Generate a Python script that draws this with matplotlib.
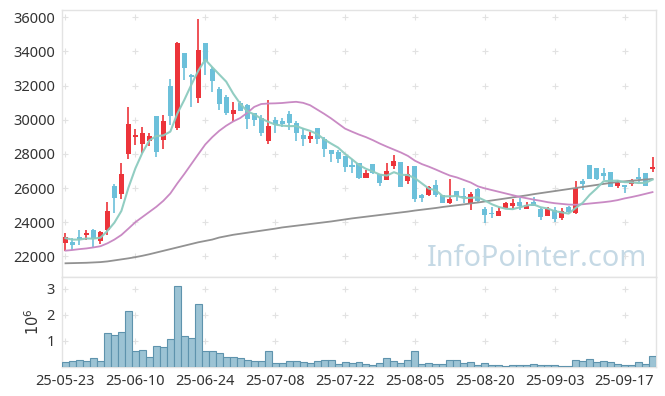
import numpy as np
import pandas as pd
import matplotlib
matplotlib.use("Agg")
import matplotlib.pyplot as plt

# ---------------- data ----------------
holidays = ["2025-06-03", "2025-06-06", "2025-08-15"]
dates = [d for d in pd.bdate_range("2025-05-23", "2025-09-23") if d.strftime("%Y-%m-%d") not in holidays]
date_labels = [d.strftime("%y-%m-%d") for d in dates]

open_ = [22760, 22820, 23130, 23250, 23540, 22910, 23540, 26120, 25630, 27990,
         28990, 28580, 28770, 30220, 28810, 31980, 29530, 33910, 32600, 31290,
         34500, 32990, 31800, 31310, 30350, 30960, 30860, 30390, 30080, 28750,
         29980, 29940, 30340, 29790, 29100, 28890, 29500, 28850, 28230, 28090,
         27880, 27360, 27450, 26600, 27410, 26820, 26490, 27300, 27540, 26400,
         27290, 25580, 25590, 26180, 25590, 25100, 25830, 25550, 25140, 25920,
         24770, 24500, 24360, 24850, 24950, 25160, 24790, 25160, 24770, 24380,
         24710, 24230, 24870, 24520, 26410, 27350, 27190, 26900, 26920, 26140,
         26180, 26220, 26630, 26900, 27110]
high = [23350, 23050, 23540, 23540, 23620, 23490, 25160, 26240, 27450, 30750,
        29470, 29560, 29220, 30220, 30280, 32370, 34570, 33910, 32650, 35880,
        34500, 33110, 31940, 31430, 31040, 31110, 30900, 30400, 30280, 31150,
        30160, 30120, 30510, 29940, 29530, 29300, 29500, 28970, 28230, 28230,
        27880, 27680, 27470, 27050, 27410, 26850, 27460, 27930, 27540, 27300,
        27290, 25640, 26120, 26470, 25600, 26510, 25830, 25980, 25780, 26000,
        24870, 24870, 24900, 25200, 25370, 25390, 25160, 25490, 24800, 24870,
        24870, 24810, 24950, 26410, 26530, 27350, 27190, 27150, 26920, 26470,
        26180, 26500, 27190, 26900, 27800]
low = [22330, 22370, 22680, 22950, 22560, 22720, 23230, 24550, 25340, 27720,
       28520, 28030, 28460, 27800, 28300, 29690, 29400, 32330, 30730, 30960,
       32620, 31620, 30570, 30280, 29930, 30500, 29440, 29630, 29050, 28560,
       29240, 29580, 29380, 28770, 28460, 28620, 28580, 27830, 27510, 27480,
       26950, 26860, 26550, 26570, 26800, 26120, 26460, 27100, 26050, 26230,
       25170, 25200, 25520, 25490, 25100, 25050, 25260, 25100, 24710, 25200,
       23930, 24260, 24360, 24800, 24790, 24700, 24760, 24940, 24120, 24360,
       24030, 24130, 24560, 24500, 25880, 26530, 26480, 26470, 26080, 26020,
       25720, 26130, 26370, 26100, 26920]
close = [23110, 22680, 23000, 23380, 23000, 23400, 24650, 25430, 26820, 29750,
         29100, 29220, 29050, 28110, 29920, 30220, 34500, 33050, 32520, 34070,
         33460, 32290, 30920, 30410, 30570, 30530, 30060, 29990, 29200, 29630,
         29710, 29750, 29830, 29240, 28870, 29050, 28850, 28270, 27980, 27700,
         27210, 27250, 26600, 26860, 26900, 26310, 26970, 27600, 26080, 26850,
         25380, 25430, 26080, 25590, 25100, 25360, 25550, 25460, 25650, 25260,
         24420, 24460, 24650, 25140, 25140, 24950, 25000, 24950, 24320, 24770,
         24180, 24650, 24580, 25980, 26240, 26530, 26530, 26720, 26080, 26310,
         26080, 26470, 26530, 26140, 27250]
prior_closes = [23100, 23000, 23050, 23050]

ma20 = [22330, 22370, 22420, 22460, 22520, 22590, 22760, 22980, 23250, 23620,
        24000, 24300, 24600, 24900, 25250, 25680, 26270, 26820, 27400, 27980,
        28550, 28980, 29350, 29650, 29900, 30100, 30400, 30750, 30920, 30950,
        30960, 30980, 31020, 31050, 30990, 30850, 30600, 30350, 30080, 29780,
        29480, 29300, 29130, 28980, 28800, 28600, 28420, 28250, 28080, 27880,
        27600, 27400, 27250, 27080, 26900, 26730, 26620, 26470, 26320, 26100,
        25980, 25880, 25780, 25680, 25580, 25480, 25400, 25320, 25250, 25170,
        25110, 25070, 25030, 25020, 25050, 25090, 25130, 25170, 25220, 25290,
        25390, 25470, 25560, 25660, 25760]
ma60 = [21590, 21600, 21610, 21620, 21640, 21660, 21700, 21760, 21820, 21880,
        21950, 22030, 22120, 22220, 22320, 22420, 22520, 22620, 22720, 22820,
        22900, 22980, 23100, 23180, 23260, 23320, 23380, 23440, 23500, 23560,
        23620, 23690, 23740, 23790, 23840, 23890, 23940, 23990, 24040, 24100,
        24160, 24220, 24270, 24320, 24370, 24420, 24470, 24520, 24570, 24620,
        24680, 24730, 24780, 24830, 24890, 24940, 24990, 25040, 25100, 25150,
        25210, 25270, 25330, 25390, 25450, 25510, 25570, 25640, 25700, 25760,
        25820, 25880, 25940, 26000, 26060, 26120, 26180, 26240, 26300, 26350,
        26390, 26430, 26460, 26500, 26530]

volume_m = [0.18, 0.23, 0.27, 0.23, 0.33, 0.23, 1.29, 1.22, 1.33, 2.14,
            0.60, 0.64, 0.37, 0.79, 0.76, 1.06, 3.10, 1.18, 1.10, 2.41,
            0.60, 0.60, 0.53, 0.37, 0.37, 0.33, 0.27, 0.23, 0.23, 0.60,
            0.14, 0.14, 0.22, 0.22, 0.18, 0.14, 0.23, 0.27, 0.27, 0.10,
            0.18, 0.14, 0.18, 0.10, 0.06, 0.14, 0.33, 0.23, 0.14, 0.27,
            0.62, 0.10, 0.14, 0.10, 0.10, 0.27, 0.27, 0.14, 0.18, 0.06,
            0.14, 0.06, 0.06, 0.03, 0.06, 0.06, 0.06, 0.10, 0.06, 0.06,
            0.06, 0.03, 0.03, 0.27, 0.23, 0.31, 0.18, 0.23, 0.18, 0.10,
            0.06, 0.06, 0.18, 0.10, 0.42]

price_ticks = [22000, 24000, 26000, 28000, 30000, 32000, 34000, 36000]
vol_ticks = [1, 2, 3]
watermark = "InfoPointer.com"

# ---------------- styling ----------------
plt.rcParams['font.family'] = ['Noto Sans', 'DejaVu Sans']
RED = '#ec343a'
BLUE = '#6cc0da'
TEAL = '#8ccbbf'
PINK = '#c98ac4'
GRAY = '#929292'
FRAME = '#e3e3e3'
TXT = '#333333'

n = len(close)
x = np.arange(n)
o = np.array(open_, float); c = np.array(close, float)
h = np.array(high, float); l = np.array(low, float)
ma5 = pd.Series(prior_closes + close, dtype=float).rolling(5).mean().to_numpy()[len(prior_closes):]

fig = plt.figure(figsize=(6.65, 3.96), dpi=100)
axp = fig.add_axes([62/665, (396-277)/396, (656-62)/665, (277-10)/396])
axv = fig.add_axes([62/665, (396-367)/396, (656-62)/665, (367-277)/396], sharex=axp)

up = c >= o
colors = np.where(up, RED, BLUE)
axp.vlines(x, l, h, colors=colors, linewidth=1.2, zorder=3)
body_bottom = np.minimum(o, c)
body_h = np.maximum(np.abs(c - o), 70)
axp.bar(x, body_h, bottom=body_bottom, width=0.72, color=colors, linewidth=0, zorder=4)

axp.plot(x, ma60, color=GRAY, lw=1.3, zorder=5)
axp.plot(x, ma20, color=PINK, lw=1.3, zorder=5)
axp.plot(x, ma5, color=TEAL, lw=1.5, alpha=0.95, zorder=5)

axp.text(0.985, 0.041, watermark, transform=axp.transAxes, ha='right', va='baseline',
         fontsize=20.8, color='#c5d9e5', zorder=1)

xt = list(range(0, n, 10))
axp.set_xlim(-0.5, n - 0.5)
axp.set_ylim(20787, 36428)
axp.set_yticks(price_ticks)
axp.set_yticklabels([str(t) for t in price_ticks])
gx, gy = np.meshgrid(xt, price_ticks)
axp.plot(gx.ravel(), gy.ravel(), ls='none', marker='+', ms=4.5, mew=0.8, color='#e2e2e2', zorder=0)

# volume
axv.bar(x, volume_m, width=1.0, color='#9cc3d4', edgecolor='#5e93ad', linewidth=0.8, zorder=3)
axv.set_ylim(0, 3.45)
axv.set_yticks(vol_ticks)
axv.set_yticklabels([str(t) for t in vol_ticks])
axv.set_ylabel('$10^6$', color=TXT, fontsize=10.5, labelpad=3)
gx2, gy2 = np.meshgrid(xt, vol_ticks)
axv.plot(gx2.ravel(), gy2.ravel(), ls='none', marker='+', ms=4.5, mew=0.8, color='#e2e2e2', zorder=0)
axv.set_xticks(xt)
axv.set_xticklabels([date_labels[i] for i in xt])

for ax in (axp, axv):
    for s in ax.spines.values():
        s.set_color(FRAME)
        s.set_linewidth(1.0)
    ax.tick_params(length=0, colors=TXT, labelsize=10.5, pad=5)
plt.setp(axp.get_xticklabels(), visible=False)

fig.savefig("out.png", dpi=100)
